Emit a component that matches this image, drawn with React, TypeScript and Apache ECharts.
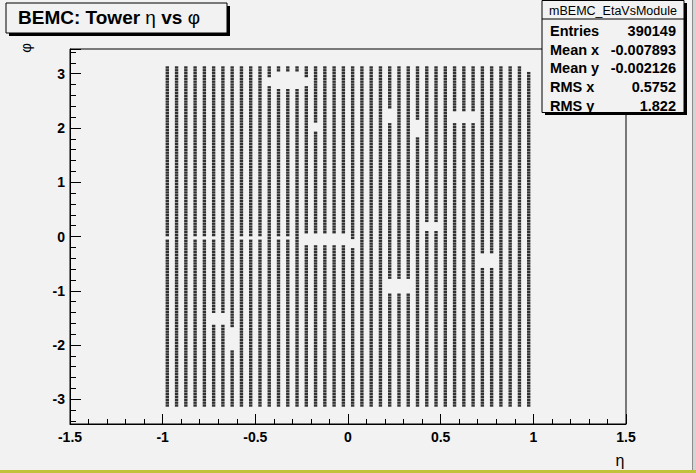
import { useEffect, useRef } from "react";
import * as echarts from "echarts";

// Tower centres in eta (40 bins of 0.05)
const etaCenters = [
  -0.975, -0.925, -0.875, -0.825, -0.775, -0.725, -0.675, -0.625, -0.575, -0.525,
  -0.475, -0.425, -0.375, -0.325, -0.275, -0.225, -0.175, -0.125, -0.075, -0.025,
  0.025, 0.075, 0.125, 0.175, 0.225, 0.275, 0.325, 0.375, 0.425, 0.475,
  0.525, 0.575, 0.625, 0.675, 0.725, 0.775, 0.825, 0.875, 0.925, 0.975,
];

// Tower centres in phi (120 bins)
const phiCenters = [
  -3.115, -3.063, -3.011, -2.958, -2.906, -2.854, -2.801, -2.749, -2.697, -2.644,
  -2.592, -2.539, -2.487, -2.435, -2.382, -2.330, -2.278, -2.225, -2.173, -2.121,
  -2.068, -2.016, -1.963, -1.911, -1.859, -1.806, -1.754, -1.702, -1.649, -1.597,
  -1.545, -1.492, -1.440, -1.388, -1.335, -1.283, -1.230, -1.178, -1.126, -1.073,
  -1.021, -0.969, -0.916, -0.864, -0.812, -0.759, -0.707, -0.654, -0.602, -0.550,
  -0.497, -0.445, -0.393, -0.340, -0.288, -0.236, -0.183, -0.131, -0.079, -0.026,
  0.026, 0.079, 0.131, 0.183, 0.236, 0.288, 0.340, 0.393, 0.445, 0.497,
  0.550, 0.602, 0.654, 0.707, 0.759, 0.812, 0.864, 0.916, 0.969, 1.021,
  1.073, 1.126, 1.178, 1.230, 1.283, 1.335, 1.388, 1.440, 1.492, 1.545,
  1.597, 1.649, 1.702, 1.754, 1.806, 1.859, 1.911, 1.963, 2.016, 2.068,
  2.121, 2.173, 2.225, 2.278, 2.330, 2.382, 2.435, 2.487, 2.539, 2.592,
  2.644, 2.697, 2.749, 2.801, 2.854, 2.906, 2.958, 3.011, 3.063, 3.115,
];

// Empty (dead) regions: [etaMin, etaMax, phiMin, phiMax]
const deadRegions = [
  [-0.425, -0.225, 2.75, 2.95],
  [-0.375, -0.275, 2.70, 3.05],
  [-0.225, -0.025, -0.18, 0.07],
  [0.025, 0.025, -0.2, -0.07],
  [-0.975, -0.975, -0.04, -0.01],
  [-0.825, -0.725, -0.04, -0.01],
  [-0.575, -0.475, -0.04, -0.01],
  [-0.375, -0.325, -0.04, -0.01],
  [0.225, 0.325, -1.04, -0.77],
  [0.425, 0.475, 0.1, 0.25],
  [0.725, 0.775, -0.55, -0.3],
  [0.575, 0.675, 2.1, 2.3],
  [0.225, 0.225, 2.1, 2.35],
  [0.375, 0.375, 1.85, 2.15],
  [0.975, 0.975, 3.05, 3.2],
  [-0.725, -0.675, -1.62, -1.43],
  [-0.625, -0.625, -2.1, -1.65],
  [-0.175, -0.175, 1.95, 2.1],
];

const titleParts = ["BEMC: Tower ", "η", " vs ", "φ"];
const statsName = "mBEMC_EtaVsModule";
const statsLabels = ["Entries", "Mean x", "Mean y", "RMS x", "RMS y"];
const statsValues = ["390149", "-0.007893", "-0.002126", "0.5752", "1.822"];
const xAxisTitle = "η";
const yAxisTitle = "φ";

const BG = "#f2f2f2";

export default function App() {
  const ref = useRef<HTMLDivElement>(null);

  useEffect(() => {
    if (!ref.current) return;
    const chart = echarts.init(ref.current, undefined, { renderer: "svg" });

    const points: number[][] = [];
    for (const eta of etaCenters) {
      for (const phi of phiCenters) {
        const dead = deadRegions.some(
          (r) => eta >= r[0] - 1e-6 && eta <= r[1] + 1e-6 && phi >= r[2] && phi <= r[3]
        );
        if (!dead) points.push([eta, phi]);
      }
    }

    const font = "'Liberation Sans', Arial, Helvetica, sans-serif";
    const greek = "'Liberation Sans', Arial, sans-serif";

    const statsRows: any[] = [];
    statsLabels.forEach((lab, i) => {
      const y = 31 + i * 18.7;
      statsRows.push({
        type: "text",
        z: 101,
        x: 550,
        y,
        style: { text: lab, font: `bold 14.5px ${font}`, fill: "#000", textVerticalAlign: "middle", textAlign: "left" },
      });
      statsRows.push({
        type: "text",
        z: 101,
        x: 676,
        y,
        style: { text: statsValues[i], font: `bold 14.5px ${font}`, fill: "#000", textVerticalAlign: "middle", textAlign: "right" },
      });
    });

    chart.setOption({
      animation: false,
      backgroundColor: BG,
      grid: {
        left: 70,
        right: 70,
        top: 49,
        bottom: 49,
        show: true,
        borderColor: "#000",
        borderWidth: 1,
        backgroundColor: "transparent",
      },
      xAxis: {
        type: "value",
        min: -1.5,
        max: 1.5,
        interval: 0.5,
        axisLine: { show: true, onZero: false, lineStyle: { color: "#000", width: 1 } },
        axisTick: { show: true, inside: true, length: 10, lineStyle: { color: "#000" } },
        minorTick: { show: true, splitNumber: 5, length: 5, lineStyle: { color: "#000" } },
        splitLine: { show: false },
        axisLabel: {
          margin: 6,
          color: "#000",
          fontFamily: font,
          fontWeight: "bold",
          fontSize: 14,
          formatter: (v: number) => String(Math.round(v * 10) / 10),
        },
      },
      yAxis: {
        type: "value",
        min: -3.456,
        max: 3.456,
        axisLine: { show: true, onZero: false, lineStyle: { color: "#000", width: 1 } },
        axisTick: { show: true, inside: true, length: 11, lineStyle: { color: "#000" } },
        minorTick: { show: true, splitNumber: 5, length: 6, lineStyle: { color: "#000" } },
        splitLine: { show: false },
        axisLabel: {
          margin: 5,
          color: "#000",
          fontFamily: font,
          fontWeight: "bold",
          fontSize: 14,
          showMinLabel: false,
          showMaxLabel: false,
          formatter: (v: number) => String(Math.round(v)),
        },
      },
      series: [
        {
          type: "scatter",
          data: points,
          symbol: "rect",
          symbolSize: [3.4, 2.4],
          itemStyle: { color: "#000" },
          silent: true,
          progressive: 0,
          large: false,
          emphasis: { disabled: true },
        },
      ],
      graphic: [
        // title box
        { type: "rect", z: 100, shape: { x: 9, y: 6, width: 221, height: 30 }, style: { fill: "#000" } },
        { type: "rect", z: 100, shape: { x: 6, y: 3, width: 221, height: 30 }, style: { fill: BG, stroke: "#000", lineWidth: 1 } },
        {
          type: "text",
          z: 101,
          x: 18,
          y: 17,
          style: {
            text: `{b|${titleParts[0]}}{g|${titleParts[1]}}{b|${titleParts[2]}}{g|${titleParts[3]}}`,
            textVerticalAlign: "middle",
            rich: {
              b: { font: `bold 19px ${font}`, fill: "#000" },
              g: { font: `19px ${greek}`, fill: "#000" },
            },
          },
        },
        // stats box
        { type: "rect", z: 100, shape: { x: 545, y: 3, width: 142, height: 112 }, style: { fill: "#000" } },
        { type: "rect", z: 100, shape: { x: 542, y: 0.5, width: 142, height: 112 }, style: { fill: BG, stroke: "#000", lineWidth: 1 } },
        { type: "line", z: 101, shape: { x1: 542, y1: 19, x2: 684, y2: 19 }, style: { stroke: "#000", lineWidth: 1 } },
        {
          type: "text",
          z: 101,
          x: 613,
          y: 11,
          style: { text: statsName, font: `12.5px ${font}`, fill: "#000", textAlign: "center", textVerticalAlign: "middle" },
        },
        ...statsRows,
        // axis titles
        {
          type: "text",
          z: 101,
          x: 25,
          y: 48,
          rotation: Math.PI / 2,
          style: { text: yAxisTitle, font: `15px ${greek}`, fill: "#000", textAlign: "center", textVerticalAlign: "middle" },
        },
        {
          type: "text",
          z: 101,
          x: 620,
          y: 460,
          style: { text: xAxisTitle, font: `16px ${greek}`, fill: "#000", textAlign: "center", textVerticalAlign: "middle" },
        },
        // canvas border
        { type: "rect", z: 99, shape: { x: 693, y: 0, width: 3, height: 473 }, style: { fill: "#d4d4d4" } },
        { type: "line", z: 99, shape: { x1: 692.5, y1: 0, x2: 692.5, y2: 473 }, style: { stroke: "#8c8c8c", lineWidth: 1 } },
        { type: "rect", z: 99, shape: { x: 0, y: 470, width: 696, height: 3 }, style: { fill: "#c2c23a" } },
      ],
    });

    return () => chart.dispose();
  }, []);

  return (
    <div
      ref={ref}
      style={{ position: "fixed", left: 0, top: 0, width: 696, height: 473 }}
    />
  );
}
